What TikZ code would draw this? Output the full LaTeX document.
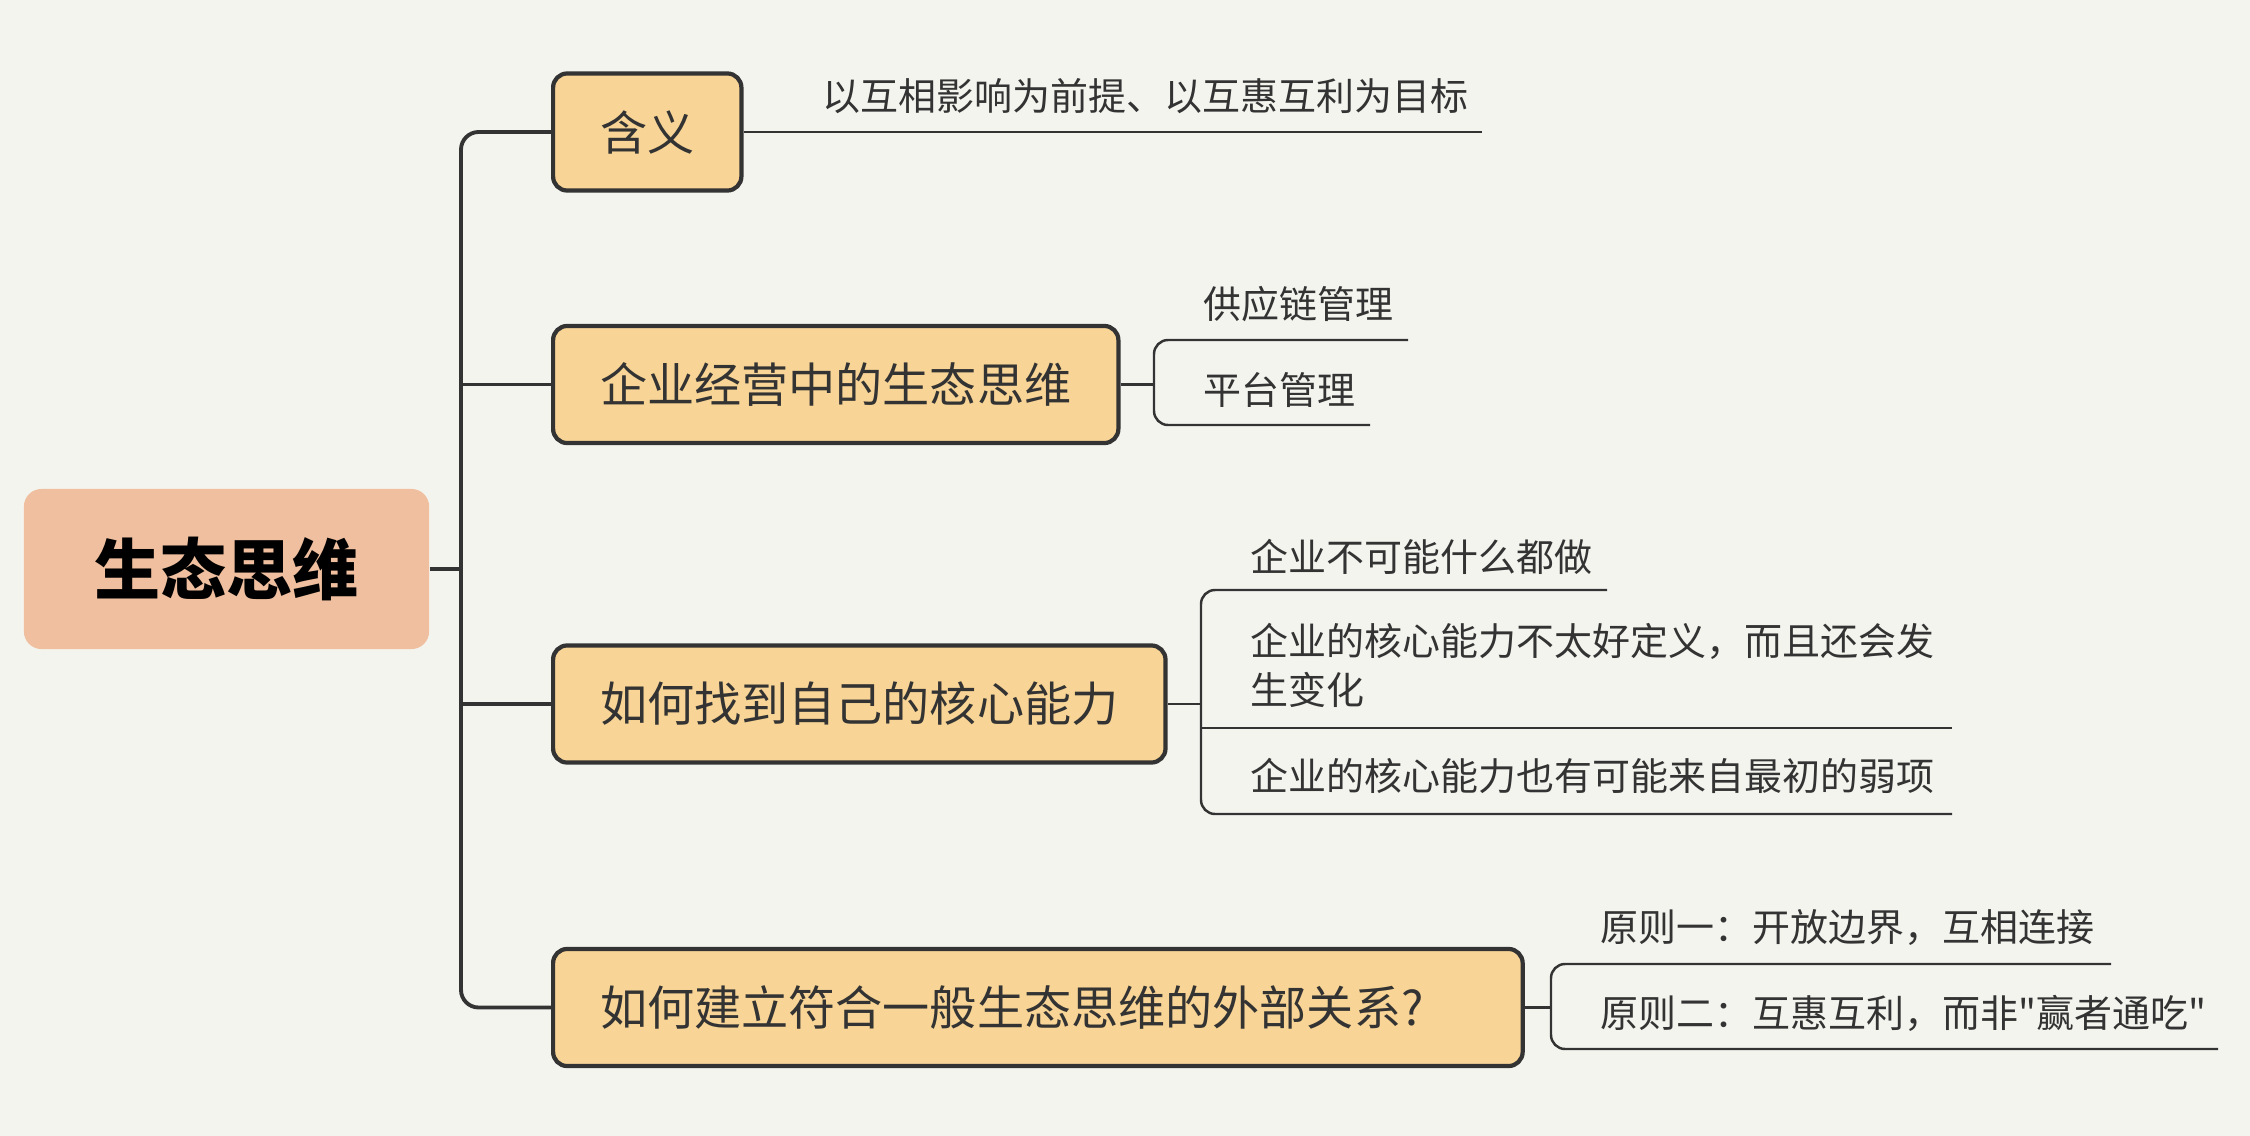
\documentclass[tikz,border=0pt]{standalone}
\usepackage{fontspec}
\newfontfamily\zhfont{Noto Sans CJK SC}
\usetikzlibrary{positioning}
\definecolor{bgcol}{HTML}{F4F4EF}
\definecolor{rootcol}{HTML}{EFBF9F}
\definecolor{topiccol}{HTML}{F8D596}
\definecolor{inkcol}{HTML}{333333}

\begin{document}
\begin{tikzpicture}[
  x=0.01cm,y=-0.01cm,
  root/.style={fill=rootcol,rounded corners=5pt,
               minimum width=4.05cm,minimum height=1.6cm,
               font=\zhfont\fontsize{18.8pt}{22pt}\selectfont\bfseries,inner sep=0pt},
  topic/.style={draw=inkcol,fill=topiccol,line width=1.2pt,rounded corners=4pt,
                minimum height=1.17cm,inner xsep=0.47cm,inner ysep=0pt,anchor=west,
                text=inkcol,font=\zhfont\fontsize{13.4pt}{16pt}\selectfont},
  leaf/.style={anchor=west,inner sep=0pt,align=left,text=inkcol,
               font=\zhfont\fontsize{10.8pt}{13.9pt}\selectfont},
  trunk/.style={draw=inkcol,line width=1.1pt},
  uline/.style={draw=inkcol,line width=0.7pt},
]
  \fill[bgcol] (0,0) rectangle (2250,1136);
  \useasboundingbox (0,0) rectangle (2250,1136);

  % root and topics
  \node[root] (root) at (226.5,569) {生态思维};
  \node[topic] (b1) at (551,132) {含义};
  \node[topic] (b2) at (551,384.5) {企业经营中的生态思维};
  \node[topic] (b3) at (551,704) {如何找到自己的核心能力};
  \node[topic,text width=8.75cm,align=left] (b4) at (551,1007.5)
    {如何建立符合一般生态思维的外部关系?};

  % trunk
  \coordinate (t) at (461,569);
  \draw[trunk] (root.east) -- (t);
  \draw[trunk,rounded corners=5pt] (b1.west) -- (b1.west -| t) -- (b4.west -| t) -- (b4.west);
  \draw[trunk] (b2.west -| t) -- (b2.west);
  \draw[trunk] (b3.west -| t) -- (b3.west);

  % leaves of b1
  \node[leaf] (l11) at (822,96) {以互相影响为前提、以互惠互利为目标};
  \coordinate (u11) at (1482,132);
  \draw[uline] (b1.east) -- (u11);

  % leaves of b2
  \node[leaf] (l21) at (1203,304) {供应链管理};
  \node[leaf] (l22) at (1203,390) {平台管理};
  \coordinate (k2) at (1154,384.5);
  \coordinate (u21) at (1408,340);
  \coordinate (u22) at (1370,425);
  \draw[uline] (b2.east) -- (k2);
  \draw[uline,rounded corners=4pt] (u21) -- (k2 |- u21) -- (k2 |- u22) -- (u22);

  % leaves of b3
  \node[leaf] (l31) at (1250,557) {企业不可能什么都做};
  \node[leaf] (l32) at (1250,665) {企业的核心能力不太好定义，而且还会发\\生变化};
  \node[leaf] (l33) at (1250,776) {企业的核心能力也有可能来自最初的弱项};
  \coordinate (k3) at (1201,704);
  \coordinate (u31) at (1607,590);
  \coordinate (u32) at (1952,728);
  \coordinate (u33) at (1952,814);
  \draw[uline] (b3.east) -- (k3);
  \draw[uline,rounded corners=4pt] (u31) -- (k3 |- u31) -- (k3 |- u33) -- (u33);
  \draw[uline] (k3 |- u32) -- (u32);

  % leaves of b4
  \node[leaf] (l41) at (1600,928) {原则一：开放边界，互相连接};
  \node[leaf] (l42) at (1600,1013) {原则二：互惠互利，而非"赢者通吃"};
  \coordinate (k4) at (1551,1007.5);
  \coordinate (u41) at (2111,964);
  \coordinate (u42) at (2218,1049);
  \draw[uline] (b4.east) -- (k4);
  \draw[uline,rounded corners=4pt] (u41) -- (k4 |- u41) -- (k4 |- u42) -- (u42);
\end{tikzpicture}
\end{document}
